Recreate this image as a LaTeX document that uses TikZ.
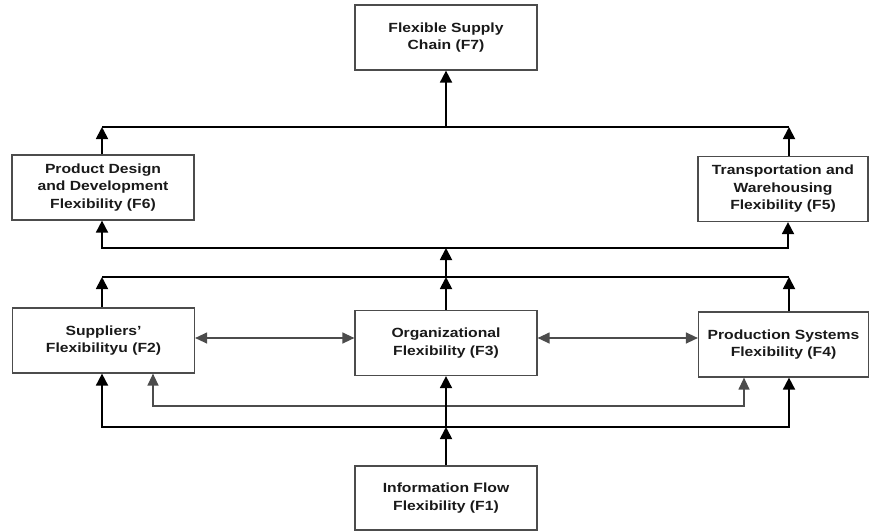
\documentclass[tikz,border=0pt]{standalone}
\usepackage{fontspec}
\setmainfont{Liberation Sans}[FakeStretch=1.18]
\usetikzlibrary{arrows.meta}

\begin{document}
\begin{tikzpicture}[x=1pt,y=-1pt,
    box/.style={draw=black!70, line width=1.2pt, minimum width=182pt, minimum height=65pt,
      inner sep=0pt, align=center, text=black!90, font=\bfseries\fontsize{13.3}{17.5}\selectfont},
    arr/.style={line width=1.8pt, -{Triangle[length=12pt,width=12pt]}},
    twoarr/.style={line width=1.8pt, {Triangle[length=12pt,width=12pt]}-{Triangle[length=12pt,width=12pt]}},
    thinarr/.style={line width=1.3pt, black!70, {Triangle[length=12pt,width=11pt]}-{Triangle[length=12pt,width=11pt]}},
    line/.style={line width=1.8pt}]
  \useasboundingbox (0,0) rectangle (870,531);

  % Kaesten
  \node[box] (f7) at (446,37.5) {Flexible Supply\\Chain (F7)};
  \node[box] (f6) at (103,187.5) {Product Design\\and Development\\Flexibility (F6)};
  \node[box, minimum width=170pt] (f5) at (783,189) {Transportation and\\Warehousing\\Flexibility (F5)};
  \node[box] (f2) at (103.5,340.5) {Suppliers'\\Flexibilityu (F2)};
  \node[box] (f3) at (446,343) {Organizational\\Flexibility (F3)};
  \node[box, minimum width=170pt] (f4) at (783.5,344.5) {Production Systems\\Flexibility (F4)};
  \node[box, minimum height=64pt] (f1) at (446,498) {Information Flow\\Flexibility (F1)};

  % Sammelleitungen
  \coordinate (a1) at (102,127);  \coordinate (a2) at (789,127);
  \coordinate (b1) at (102,248);  \coordinate (b2) at (788,248);
  \coordinate (c1) at (102,277);  \coordinate (c2) at (789,277);
  \coordinate (d1) at (153,406);  \coordinate (d2) at (744,406);
  \coordinate (e1) at (102,427);  \coordinate (e2) at (789,427);
  \coordinate (m) at (0,338);

  \draw[line] (a1) -- (a2);
  \draw[arr] (f6.north -| a1) -- (a1);
  \draw[arr] (f5.north -| a2) -- (a2);
  \draw[arr] (a1 -| f7.south) -- (f7.south);

  \draw[twoarr] (f6.south -| b1) -- (b1) -- (b2) -- (f5.south -| b2);
  \draw[arr] (c1 -| f3.north) -- (b1 -| f3.north);

  \draw[line] (c1) -- (c2);
  \draw[arr] (f2.north -| c1) -- (c1);
  \draw[arr] (f3.north) -- (c1 -| f3.north);
  \draw[arr] (f4.north -| c2) -- (c2);

  \draw[thinarr] (f2.east |- m) -- (f3.west |- m);
  \draw[thinarr] (f3.east |- m) -- (f4.west |- m);

  \draw[thinarr] (f2.south -| d1) -- (d1) -- (d2) -- (f4.south -| d2);
  \draw[twoarr] (f2.south -| e1) -- (e1) -- (e2) -- (f4.south -| e2);
  \draw[arr] (f1.north) -- (e1 -| f1.north);
  \draw[arr] (e1 -| f1.north) -- (f3.south);
\end{tikzpicture}
\end{document}
